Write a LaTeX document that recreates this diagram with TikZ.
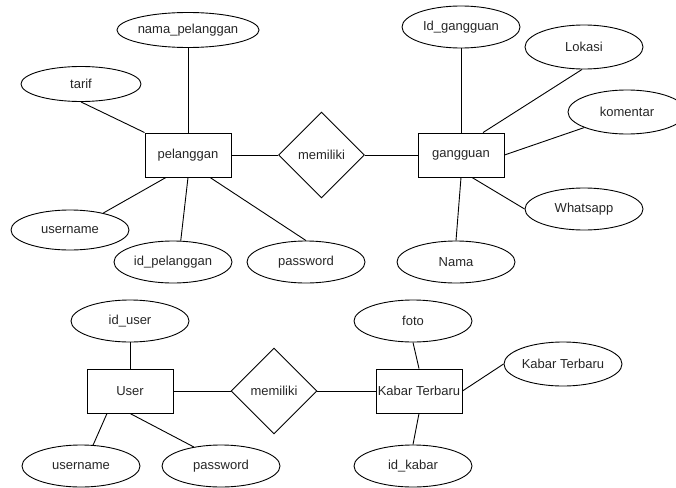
\documentclass[tikz,border=0pt]{standalone}
\usepackage{fontspec}
\setmainfont{Liberation Sans}
\usetikzlibrary{shapes.geometric}
\begin{document}
\begin{tikzpicture}[x=1pt,y=-1pt,
  every node/.style={font=\fontsize{13}{15}\selectfont, text=black!85},
  attr/.style={draw, line width=0.9pt, ellipse, inner sep=0pt, minimum width=118pt, minimum height=42pt},
  ent/.style={draw, line width=0.9pt, rectangle, inner sep=0pt, minimum width=86pt, minimum height=44pt},
  rel/.style={draw, line width=0.9pt, diamond, aspect=1, inner sep=0pt, minimum width=86pt, minimum height=86pt},
  conn/.style={draw, line width=0.9pt}]
\useasboundingbox (0,0) rectangle (676,487);
% top left
\node[ent] (pel) at (188,155) {pelanggan};
\node[attr, minimum height=35pt] (nama) at (188,30) {nama\_pelanggan};
\node[attr, minimum width=120pt, minimum height=35pt] (tarif) at (81,84) {tarif};
\node[attr, minimum height=40pt] (un1) at (70,230) {username};
\node[attr] (idp) at (173,262) {id\_pelanggan};
\node[attr] (pw1) at (306,262) {password};
\node[rel] (rel1) at (321.5,155) {memiliki};
% top right
\node[ent] (gg) at (461,155) {gangguan};
\node[attr] (idg) at (461,27) {Id\_gangguan};
\node[attr, minimum height=44pt] (lok) at (584,47) {Lokasi};
\node[attr, minimum height=44pt] (kom) at (627,112) {komentar};
\node[attr] (wa) at (584,209) {Whatsapp};
\node[attr] (nm) at (456,262) {Nama};
% bottom left
\node[ent] (usr) at (130,391) {User};
\node[attr] (idu) at (130,321) {id\_user};
\node[attr] (un2) at (81,466) {username};
\node[attr] (pw2) at (221,466) {password};
\node[rel] (rel2) at (274,391) {memiliki};
% bottom right
\node[ent] (kt) at (419,391) {Kabar Terbaru};
\node[attr] (foto) at (413,321) {foto};
\node[attr, minimum height=44pt] (kta) at (563,364) {Kabar Terbaru};
\node[attr] (idk) at (413,466) {id\_kabar};
% connectors top left
\draw[conn] (tarif.south) -- (pel.north west);
\draw[conn] (nama.south) -- (pel.north);
\draw[conn] (un1.27) -- ([xshift=-22pt]pel.south);
\draw[conn] (idp.70) -- (pel.south);
\draw[conn] (pw1.north) -- ([xshift=22pt]pel.south);
\draw[conn] (pel.east) -- (rel1.west);
% connectors top right
\draw[conn] (rel1.east) -- (gg.west);
\draw[conn] (idg.south) -- (gg.north);
\draw[conn] (lok.265) -- ([xshift=22pt]gg.north);
\draw[conn] (kom.200) -- (gg.east);
\draw[conn] (wa.west) -- ([xshift=11pt]gg.south);
\draw[conn] (nm.north) -- (gg.south);
% connectors bottom
\draw[conn] (idu.south) -- (usr.north);
\draw[conn] (un2.60) -- ([xshift=-23pt]usr.south);
\draw[conn] (pw2.145) -- (usr.south);
\draw[conn] (usr.east) -- (rel2.west);
\draw[conn] (rel2.east) -- (kt.west);
\draw[conn] (foto.south) -- (kt.north);
\draw[conn] (kta.west) -- (kt.east);
\draw[conn] (idk.north) -- (kt.south);
\end{tikzpicture}
\end{document}
